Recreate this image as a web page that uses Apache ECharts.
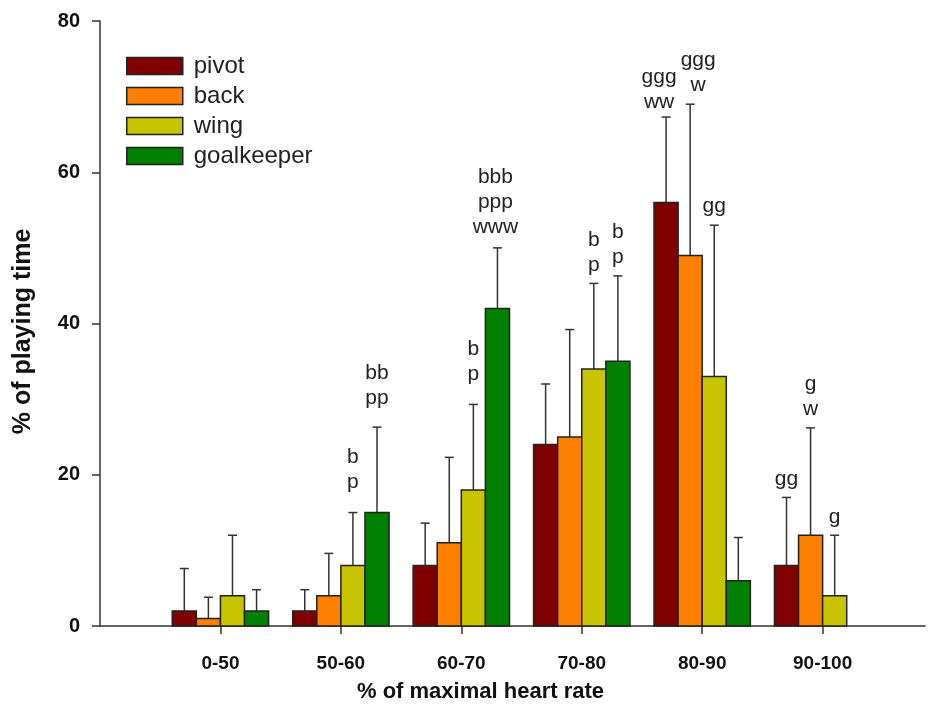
<!DOCTYPE html>
<html>
<head>
<meta charset="utf-8">
<script src="https://cdn.jsdelivr.net/npm/echarts@6/dist/echarts.min.js"></script>
<style>
  html, body { margin: 0; padding: 0; background: #fff; }
  #main { width: 933px; height: 708px; }
</style>
</head>
<body>
<div id="main"></div>
<script>
// heart-rate zones on the x axis
var categories = ["0-50", "50-60", "60-70", "70-80", "80-90", "90-100"];
var positions = ["pivot", "back", "wing", "goalkeeper"];

// mean % of playing time
var pivotMean = [2, 2, 8, 24, 56, 8];
var backMean = [1, 4, 11, 25, 49, 12];
var wingMean = [4, 8, 18, 34, 33, 4];
var gkMean = [2, 15, 42, 35, 6, null];

// standard deviation (upper error bar)
var pivotSd = [5.6, 2.8, 5.6, 8, 11.3, 9];
var backSd = [2.8, 5.6, 11.3, 14.2, 20, 14.2];
var wingSd = [8, 7, 11.3, 11.3, 20, 8];
var gkSd = [2.8, 11.3, 8, 11.3, 5.7, null];

// significance letters above the bars
var pivotSig = ["", "", "", "", "ggg\nww", "gg"];
var backSig = ["", "", "", "", "ggg\nw", "g\nw"];
var wingSig = ["", "b\np", "b\np", "b\np", "gg", "g"];
var gkSig = ["", "bb\npp", "bbb\nppp\nwww", "b\np", "", ""];

var colors = ["#800000", "#FF8000", "#C8C400", "#008000"];
// small nudges so the letters do not collide
var sigShift = {
  "1-4": [-7, 4],
  "2-4": [8, 0],
  "3-1": [0, -12], "3-2": [0, -12],
  "4-1": [0, -10],
  "4-2": [-2, -2]
};

var myChart = echarts.init(document.getElementById("main"));

function makeSeries(slot, name, means, sds, sigs) {
  var data = [];
  means.forEach(function (m, i) {
    if (m != null) data.push([i + 1, m, m + sds[i]]);
  });
  return {
    name: name,
    type: "custom",
    itemStyle: { color: colors[slot], borderColor: "#222", borderWidth: 1.5 },
    encode: { x: 0, y: [1, 2] },
    data: data,
    renderItem: function (params, api) {
      var ci = api.value(0);
      var w = api.size([1, 0])[0] * 0.2;
      var base = api.coord([ci, 0]);
      var cx = base[0] + (slot - 1.5) * w;
      var p = api.coord([ci, api.value(1)]);
      var e = api.coord([ci, api.value(2)]);
      var children = [
        {
          type: "line",
          shape: { x1: cx, y1: p[1], x2: cx, y2: e[1] },
          style: { stroke: "#333", lineWidth: 1.5 }
        },
        {
          type: "line",
          shape: { x1: cx - 4.5, y1: e[1], x2: cx + 4.5, y2: e[1] },
          style: { stroke: "#333", lineWidth: 1.5 }
        },
        {
          type: "rect",
          shape: { x: cx - w / 2, y: p[1], width: w, height: base[1] - p[1] },
          style: { fill: colors[slot], stroke: "#222", lineWidth: 1.5 }
        }
      ];
      var txt = sigs[ci - 1];
      if (txt) {
        var sh = sigShift[(slot + 1) + "-" + (ci - 1)] || [0, 0];
        children.push({
          type: "text",
          style: {
            text: txt,
            x: cx + sh[0],
            y: e[1] - 6 + sh[1],
            align: "center",
            verticalAlign: "bottom",
            font: "21px 'Liberation Sans', Arial, sans-serif",
            lineHeight: 25,
            fill: "#222"
          }
        });
      }
      return { type: "group", children: children };
    }
  };
}

var option = {
  animation: false,
  backgroundColor: "#fff",
  textStyle: { fontFamily: "'Liberation Sans', Arial, sans-serif" },
  grid: { left: 100, right: 8, top: 21, bottom: 82 },
  legend: {
    orient: "vertical",
    left: 126,
    top: 54,
    padding: 0,
    icon: "rect",
    itemWidth: 56,
    itemHeight: 17,
    itemGap: 6,
    selectedMode: false,
    data: positions,
    itemStyle: { borderColor: "#222", borderWidth: 1.5 },
    textStyle: {
      fontSize: 24,
      color: "#222",
      padding: [0, 0, 0, 6]
    }
  },
  xAxis: {
    type: "value",
    min: 0,
    max: 6.85,
    interval: 1,
    splitLine: { show: false },
    axisLine: { show: true, lineStyle: { color: "#333", width: 1.5 } },
    axisTick: { show: true, length: 8, customValues: [1, 2, 3, 4, 5, 6], lineStyle: { color: "#333", width: 1.5 } },
    axisLabel: {
      customValues: [1, 2, 3, 4, 5, 6],
      formatter: function (v) { return categories[Math.round(v) - 1]; },
      margin: 28,
      fontSize: 19,
      fontWeight: "bold",
      color: "#111"
    },
    name: "% of maximal heart rate",
    nameLocation: "middle",
    nameGap: 55,
    nameTextStyle: { fontSize: 22, fontWeight: "bold", color: "#111", padding: [0, 64, 0, 0] }
  },
  yAxis: {
    type: "value",
    min: 0,
    max: 80,
    interval: 20,
    splitLine: { show: false },
    axisLine: { show: true, lineStyle: { color: "#333", width: 1.5 } },
    axisTick: { show: true, length: 8, lineStyle: { color: "#333", width: 1.5 } },
    axisLabel: { margin: 20, fontSize: 20, fontWeight: "bold", color: "#111" },
    name: "% of playing time",
    nameLocation: "middle",
    nameGap: 64,
    nameTextStyle: { fontSize: 25, fontWeight: "bold", color: "#111", padding: [0, 16, 0, 0] }
  },
  series: [
    makeSeries(0, "pivot", pivotMean, pivotSd, pivotSig),
    makeSeries(1, "back", backMean, backSd, backSig),
    makeSeries(2, "wing", wingMean, wingSd, wingSig),
    makeSeries(3, "goalkeeper", gkMean, gkSd, gkSig)
  ]
};

myChart.setOption(option);
</script>
</body>
</html>
